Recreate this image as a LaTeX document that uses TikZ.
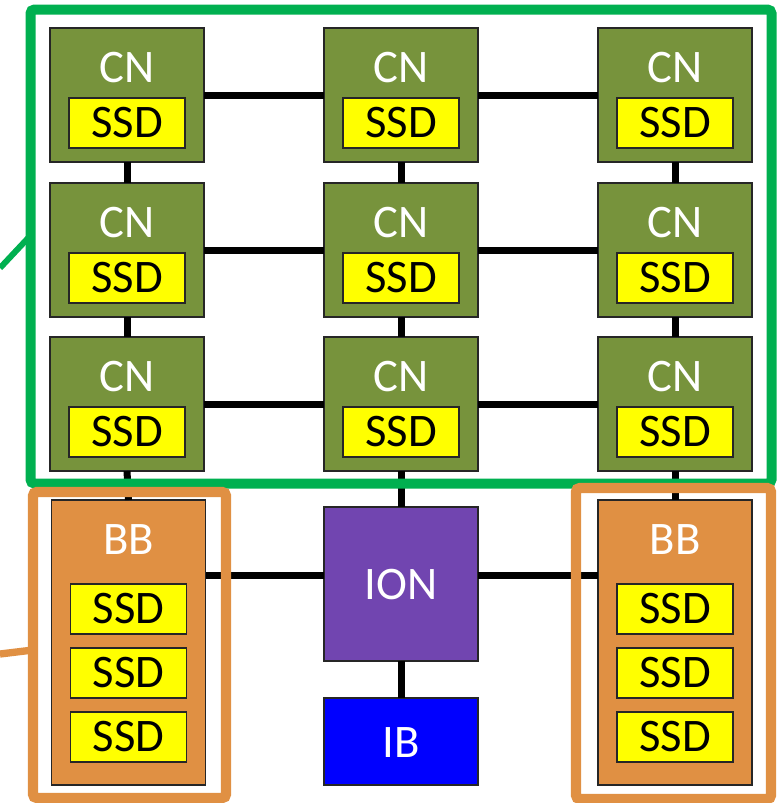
\documentclass[tikz,border=0pt]{standalone}
\usepackage{fontspec}
\setmainfont{Carlito}
\definecolor{cngreen}{HTML}{77933C}
\definecolor{ssdyellow}{HTML}{FFFF00}
\definecolor{bborange}{HTML}{E09043}
\definecolor{ionpurple}{HTML}{7145B0}
\definecolor{ibblue}{HTML}{0000FF}
\definecolor{framegreen}{HTML}{00B050}
\begin{document}
\begin{tikzpicture}[x=0.75pt,y=-0.75pt,
  box/.style={draw=black!85, line width=0.9pt, inner sep=0pt, outer sep=0pt,
    minimum width=115.5pt},
  cnbox/.style={box, fill=cngreen, minimum height=100.5pt},
  bbbox/.style={box, fill=bborange, minimum height=213.75pt},
  ionbox/.style={box, fill=ionpurple, minimum height=115.5pt},
  ibbox/.style={box, fill=ibblue, minimum height=65.25pt},
  ssd/.style={box, fill=ssdyellow, minimum width=87pt, minimum height=37.5pt,
    font=\fontsize{35}{35}\selectfont, text=black},
  lbl/.style={text=white, inner sep=0pt, font=\fontsize{35}{35}\selectfont},
  link/.style={line width=5.25pt, black},
  greenframe/.style={draw=framegreen, line width=7.5pt, rounded corners=3pt},
  orangeframe/.style={draw=bborange, line width=7.8pt, rounded corners=3pt}]
\useasboundingbox (0,0) rectangle (781,803);

% compute-node grid
\foreach \c/\x in {1/127,2/401,3/675}
  \foreach \r/\y in {1/95,2/250,3/404} {
    \node[cnbox] (cn\r\c) at (\x,\y) {};
    \node[lbl] (cnl\r\c) at (\x,\y-27.5) {CN};
    \node[ssd] (ssd\r\c) at (\x,\y+28) {SSD};
  }

% burst buffers, I/O node and InfiniBand
\foreach \s/\x in {l/128.5,r/675} {
  \node[bbbox] (bb\s) at (\x,642.5) {};
  \node[lbl] (bbt\s) at (\x,540) {BB};
  \node[ssd] (bbs\s1) at (\x,609) {SSD};
  \node[ssd] (bbs\s2) at (\x,673) {SSD};
  \node[ssd] (bbs\s3) at (\x,737) {SSD};
}
\node[ionbox] (ion) at (401,584) {};
\node[lbl] (iont) at (401,585) {ION};
\node[ibbox] (ib) at (401,741.5) {};
\node[lbl] (ibt) at (401,743) {IB};

% interconnect links
\foreach \r in {1,2,3} {
  \draw[link] (cn\r1.east) -- (cn\r2.west);
  \draw[link] (cn\r2.east) -- (cn\r3.west);
}
\foreach \c in {1,2,3} {
  \draw[link] (cn1\c.south) -- (cn2\c.north);
  \draw[link] (cn2\c.south) -- (cn3\c.north);
}
\draw[link] (cn31.south) -- (bbl.north);
\draw[link] (cn32.south) -- (ion.north);
\draw[link] (cn33.south) -- (bbr.north);
\draw[link] (ion.south) -- (ib.north);
\coordinate (ionwl) at ([yshift=6.75pt]ion.west);
\coordinate (ioner) at ([yshift=6.75pt]ion.east);
\draw[link] (ionwl) -- (ionwl -| bbl.east);
\draw[link] (ioner) -- (ioner -| bbr.west);

% grouping frames and their leaders
\draw[greenframe] (30.5,9.5) rectangle (771.5,483.5);
\coordinate (gl0) at (0,268);
\coordinate (gl1) at (30,236);
\draw[framegreen, line width=4.5pt] (gl0) -- (gl1);
\draw[orangeframe] (33,492) rectangle (226,798);
\draw[orangeframe] (576,488) rectangle (771,799);
\coordinate (ol0) at (0,654);
\coordinate (ol1) at (33,650);
\draw[bborange, line width=5.5pt] (ol0) -- (ol1);
\end{tikzpicture}
\end{document}
